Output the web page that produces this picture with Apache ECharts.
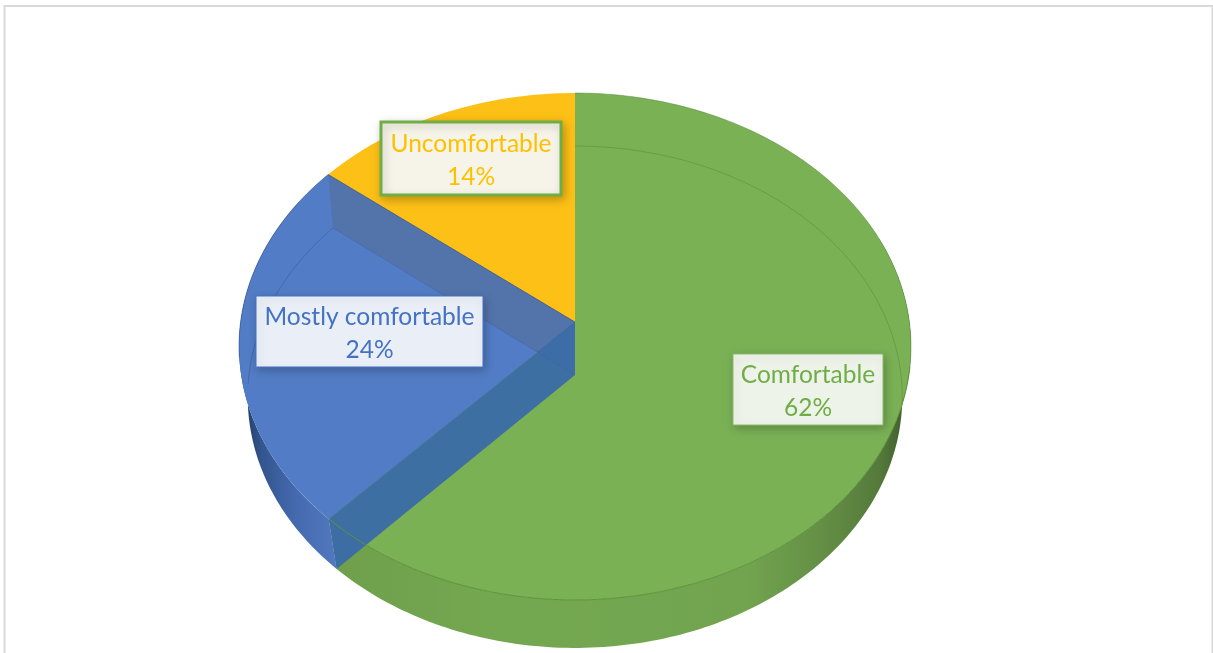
<!DOCTYPE html>
<html>
<head>
    <meta charset="utf-8">
    <script src="https://cdnjs.cloudflare.com/ajax/libs/echarts/6.0.0/echarts.min.js"></script>
    <style>
        html, body { margin: 0; padding: 0; background: #fff; overflow: hidden; }
    </style>
</head>

<body>
    <div id="main" style="width:1213px; height:653px;"></div>
</body>

<script type="text/javascript">
    // chart values, clockwise from 12 o'clock (labels show them rounded)
    const categories = ['Comfortable', 'Mostly comfortable', 'Uncomfortable'];
    const seriesValues = [62, 23.7, 14.3];
    const sliceColors = ['#7ab155', '#527cc5', '#fcc016'];
    const textColors = ['#70ad47', '#4472c4', '#ffc000'];

    // label boxes, same order as categories
    const labelBoxes = [
        { x: 733, y: 354, w: 150, h: 71, fill: '#eef3ea', stroke: '#8abb68', lw: 1 },
        { x: 256, y: 296, w: 227, h: 71, fill: '#e9eef7', stroke: '#4472c4', lw: 1 },
        { x: 381, y: 122, w: 180, h: 73, fill: '#f6f4e8', stroke: '#70ad47', lw: 3 }
    ];

    // perspective of the two faces of the disc
    const topFace = { cx: 575, cy: 322, a: 334.4, b: 251.1, k: 0.0966 };
    const baseFace = { cx: 575, cy: 375, a: 326, b: 249, k: 0.0876 };

    function project(face, deg) {
        const t = deg * Math.PI / 180;
        const d = 1 + face.k * Math.cos(t);
        return [face.cx + face.a * Math.sin(t) / d, face.cy - face.b * Math.cos(t) / d];
    }

    function arc(face, from, to) {
        const pts = [];
        const n = Math.ceil(Math.abs(to - from));
        for (let i = 0; i <= n; i++) {
            pts.push(project(face, from + (to - from) * i / n));
        }
        return pts;
    }

    function hGradient(x, x2, stops) {
        return {
            type: 'linear', x: x, y: 0, x2: x2, y2: 0, global: true,
            colorStops: stops.map(s => ({ offset: s[0], color: s[1] }))
        };
    }

    const total = seriesValues.reduce((a, b) => a + b, 0);
    const starts = [];
    seriesValues.reduce((sum, v, i) => {
        starts[i] = sum / total * 360;
        return sum + v;
    }, 0);
    const ends = starts.map((s, i) => s + seriesValues[i] / total * 360);

    function poly(points, style, z2) {
        return { type: 'polygon', z2: z2, shape: { points: points }, style: style };
    }

    function line(points, stroke, width, z2) {
        return {
            type: 'polyline', z2: z2, shape: { points: points },
            style: { fill: 'none', stroke: stroke, lineWidth: width }
        };
    }

    function wedge(i) {
        return [[topFace.cx, topFace.cy]].concat(arc(topFace, starts[i], ends[i]));
    }

    function wall(from, to) {
        return arc(topFace, from, to).concat(arc(baseFace, from, to).reverse());
    }

    function sideWall(deg) {
        return [[topFace.cx, topFace.cy], project(topFace, deg), project(baseFace, deg), [baseFace.cx, baseFace.cy]];
    }

    function renderSlice(params, api) {
        const i = params.dataIndex;
        const children = [];
        if (i === 0) {
            children.push(poly(wall(70, ends[0]), {
                fill: hGradient(330, 908, [
                    [0, '#6f9f4c'], [0.3, '#74a850'], [0.72, '#72a44f'],
                    [0.85, '#648f45'], [0.95, '#557a3b'], [1, '#3f5c2c']
                ])
            }, 1));
            children.push(poly(wedge(0), { fill: sliceColors[0] }, 5));
            children.push(line(arc(baseFace, 0, 97), 'rgba(80,125,50,0.5)', 0.8, 6));
            children.push(line(arc(topFace, 0, 100), 'rgba(85,130,55,0.6)', 0.8, 6));
            children.push(line(arc(topFace, 100, ends[0]), '#5d9239', 1, 12));
        } else if (i === 1) {
            children.push(poly(wall(starts[1], 300), {
                fill: hGradient(243, 340, [
                    [0, '#233c66'], [0.2, '#34568f'], [0.55, '#456ab0'], [1, '#5379c0']
                ])
            }, 1));
            children.push(poly(wedge(1), { fill: sliceColors[1] }, 3));
            children.push(poly(sideWall(ends[1]), { fill: 'rgba(84,115,168,0.92)' }, 7));
            children.push(poly(sideWall(starts[1]), { fill: 'rgba(60,108,166,0.97)' }, 8));
            children.push(line(arc(baseFace, 268, ends[1]), 'rgba(50,85,150,0.6)', 0.8, 6));
            children.push(line(arc(topFace, 262, ends[1]), 'rgba(50,80,140,0.7)', 0.8, 9));
            children.push(line([project(topFace, ends[1]), [topFace.cx, topFace.cy]], 'rgba(50,75,125,0.8)', 0.8, 9));
            children.push(line([project(baseFace, ends[1]), [baseFace.cx, baseFace.cy]], 'rgba(60,95,160,0.5)', 0.8, 9));
            children.push(line([project(topFace, starts[1]), [topFace.cx, topFace.cy]], 'rgba(60,100,165,0.7)', 0.8, 9));
        } else {
            children.push(poly(wedge(2), { fill: sliceColors[2] }, 4));
        }

        // label box with category and share
        const box = labelBoxes[i];
        children.push({
            type: 'rect', z2: 20,
            shape: { x: box.x, y: box.y, width: box.w, height: box.h },
            style: {
                fill: box.fill, stroke: box.stroke, lineWidth: box.lw,
                shadowBlur: 9, shadowOffsetX: 2, shadowOffsetY: 3,
                shadowColor: 'rgba(0,0,0,0.22)'
            }
        });
        const midX = box.x + box.w / 2;
        [categories[i], Math.round(api.value(0)) + '%'].forEach((str, row) => {
            children.push({
                type: 'text', z2: 21,
                style: {
                    x: midX, y: box.y + box.h / 2 + (row === 0 ? -14.5 : 18.5),
                    text: str, fill: textColors[i], align: 'center', verticalAlign: 'middle',
                    font: '400 24.5px Lato, sans-serif'
                }
            });
        });
        return { type: 'group', children: children };
    }

    const myChart = echarts.init(document.getElementById('main'), null, { renderer: 'canvas' });

    let option = {
        backgroundColor: '#ffffff',
        animation: false,
        graphic: [{
            type: 'rect',
            shape: { x: 4.5, y: 6, width: 1208, height: 700 },
            style: { fill: 'none', stroke: '#d9d9d9', lineWidth: 2 },
            silent: true
        }],
        series: [{
            type: 'custom',
            coordinateSystem: 'none',
            silent: true,
            renderItem: renderSlice,
            data: seriesValues.map((v, i) => ({ name: categories[i], value: [v] }))
        }]
    };
    option && myChart.setOption(option);
</script>
</html>
